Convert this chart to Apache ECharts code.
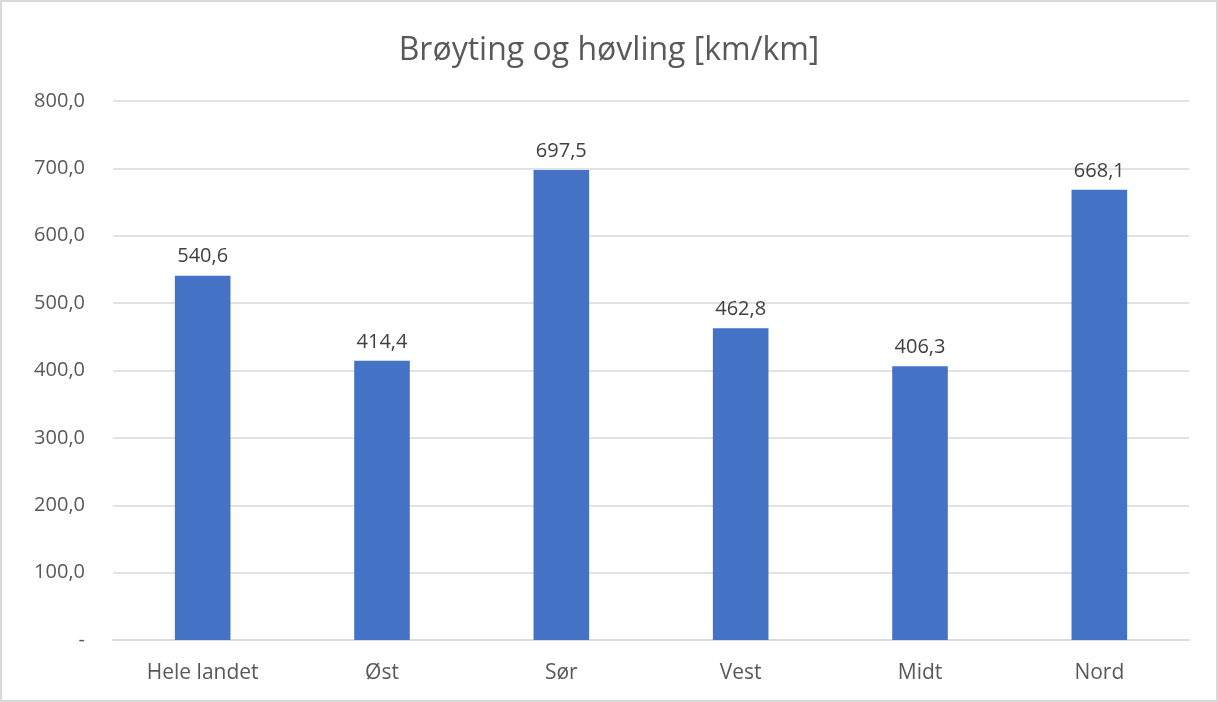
<!DOCTYPE html>
<html>
<head>
<meta charset="utf-8">
<script src="https://cdn.jsdelivr.net/npm/echarts@6/dist/echarts.min.js"></script>
<style>
  html, body { margin: 0; padding: 0; background: #fff; }
  #main { width: 1218px; height: 702px; box-sizing: border-box; border: 2px solid #d9d9d9; }
</style>
</head>
<body>
<div id="main"></div>
<script>
// data
const categories = ['Hele landet', 'Øst', 'Sør', 'Vest', 'Midt', 'Nord'];
const values = [540.6, 414.4, 697.5, 462.8, 406.3, 668.1];

const fmt = v => v === 0 ? '-' : v.toFixed(1).replace('.', ',');

const chart = echarts.init(document.getElementById('main'));

chart.setOption({
  animation: false,
  textStyle: { fontFamily: 'Open Sans, Noto Sans, sans-serif' },
  title: {
    text: 'Brøyting og høvling [km/km]',
    left: 'center',
    top: 28,
    textStyle: { fontSize: 32, fontWeight: 'normal', color: '#595959', fontFamily: 'Open Sans, Noto Sans, sans-serif' }
  },
  grid: { left: 111, right: 27, top: 99, bottom: 60, containLabel: false },
  xAxis: {
    type: 'category',
    data: categories,
    axisLine: { lineStyle: { color: '#d9d9d9', width: 1.5 } },
    axisTick: { show: false },
    axisLabel: { color: '#595959', fontSize: 21, margin: 23 }
  },
  yAxis: {
    type: 'value',
    min: 0,
    max: 800,
    interval: 100,
    axisLine: { show: false },
    axisTick: { show: false },
    splitLine: { lineStyle: { color: '#d9d9d9', width: 1.5 } },
    axisLabel: { color: '#595959', fontSize: 20, margin: 28, formatter: fmt }
  },
  series: [{
    type: 'bar',
    data: values,
    barWidth: '31%',
    itemStyle: { color: '#4472C4' },
    label: {
      show: true,
      position: 'top',
      distance: 9,
      color: '#404040',
      fontSize: 20,
      formatter: p => fmt(p.value)
    }
  }]
});
</script>
</body>
</html>
